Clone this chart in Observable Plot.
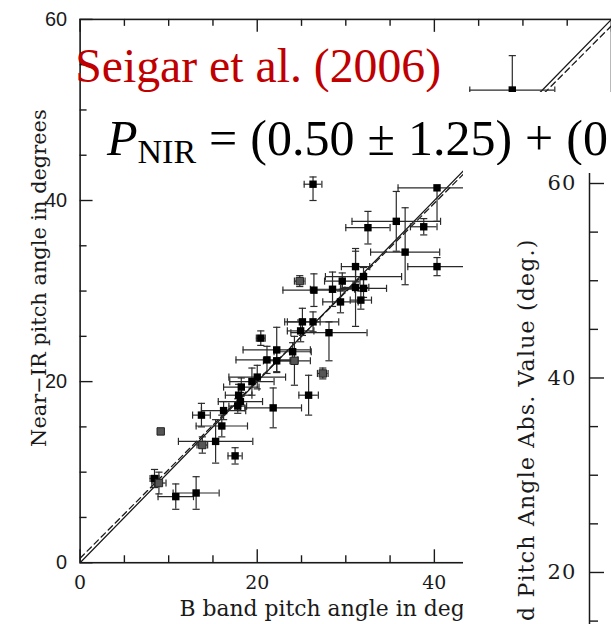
<!DOCTYPE html>
<html><head><meta charset="utf-8">
<script src="https://cdn.jsdelivr.net/npm/d3@7"></script>
<script src="https://cdn.jsdelivr.net/npm/@observablehq/plot@0.6"></script>
<style>
html,body{margin:0;padding:0;background:#fff;}
#wrap{position:relative;width:611px;height:624px;overflow:hidden;background:#fff;}
#left{position:absolute;left:0;top:0;}
#eq{position:absolute;left:98px;top:92px;width:513px;height:75px;background:#fff;}
#eqtext{position:absolute;left:9px;top:17px;font-family:"Liberation Serif",serif;font-size:50px;line-height:58px;word-spacing:0.5px;white-space:nowrap;color:#000;}
#eqtext .sub{font-size:34px;position:relative;top:8px;word-spacing:0;}
#right{position:absolute;left:463px;top:165px;width:148px;height:459px;background:#fff;}
</style>
</head>
<body>
<div id="wrap">
  <div id="left"></div>
  <div id="eq"><div id="eqtext"><i>P</i><span class="sub">NIR</span> = (0.50 ± 1.25) + (0</div></div>
  <div id="right"></div>
</div>
<script>
// ---- data: B band vs near-IR pitch angles (degrees) ----
const bandB  = [26.3,40.3,35.7,32.5,38.8,36.7,40.3,31.1,32.0,29.6,24.8,26.4,28.5,31.1,32.0,29.4,31.7,26.3,28.1,25.1,24.9,20.4,22.2,24.0,21.1,22.2,24.2,20.0,19.4,18.2,17.9,18.1,17.8,21.8,25.8,27.4,13.7,16.2,16.0,15.3,13.8,9.1,17.5,8.4,8.9,10.8,13.1,48.8];
const nearIR = [41.8,41.4,37.7,37.0,37.1,34.3,32.7,32.7,31.6,31.1,31.1,30.1,30.2,30.4,30.3,28.8,29.0,26.6,25.4,26.6,25.6,24.8,23.5,23.3,22.4,22.3,22.3,20.5,20.0,19.4,18.5,17.8,17.3,17.1,18.5,20.9,16.3,16.8,15.1,13.4,13.0,14.5,11.8,9.3,8.8,7.3,7.7,52.2];
const errB   = [1.0,4.4,5.0,2.5,1.5,3.9,3.3,1.6,4.3,2.0,0.6,3.5,2.5,1.5,2.6,2.0,1.2,2.9,4.3,2.0,1.5,0.5,3.8,2.1,3.5,1.5,1.8,3.2,2.5,2.0,1.5,2.5,1.0,3.2,1.1,0.6,1.0,2.5,2.9,4.2,0.6,0,0.8,0.5,0.8,2.0,2.6,4.8];
const errNlo = [1.8,3.7,3.3,1.8,0.9,3.6,1.0,1.7,1.0,0.9,0.6,1.8,1.9,4.3,1.0,1.2,1.0,1.1,3.1,1.5,1.2,0.8,2.5,1.0,1.5,1.2,2.7,1.3,1.5,1.0,1.2,1.0,0.8,2.2,2.2,0.6,1.3,1.0,1.2,2.4,0.9,0,0.9,1.0,1.2,1.4,1.8,3.8];
const errNhi = [0.8,0.0,3.3,1.8,0.9,4.9,1.0,1.7,1.0,0.9,0.6,1.8,1.9,4.3,1.0,1.2,1.0,1.1,1.2,1.5,1.2,0.8,2.5,1.0,1.5,1.2,2.7,1.3,1.5,1.0,1.2,1.0,0.8,2.2,2.2,0.6,1.3,1.0,1.2,2.4,0.9,0,0.9,1.0,1.2,1.4,1.8,3.8];
const greyPt = [0,0,0,0,0,0,0,0,0,0,1,0,0,0,0,0,0,0,0,0,0,0,0,0,0,0,1,0,0,0,0,0,0,0,0,1,0,0,0,0,1,1,0,0,1,0,0,0];

// fit line and one-to-one line
const fitIntercept = 0.50, fitSlope = 0.98;
const lineXs = [0, 60];

// axes ticks
const xMajor = [0, 20, 40, 60];
const xMinor = [5, 10, 15, 25, 30, 35, 45, 50, 55];
const yMajor = [0, 20, 40, 60];
const yMinor = [5, 10, 15, 25, 30, 35, 45, 50, 55];
const xTickLabels = [0, 20, 40];
const yTickLabels = [0, 20, 40, 60];
const xTitle = "B band pitch angle in degrees";
const yTitle = "Near\u2212IR pitch angle in degrees";
const refLabel = "Seigar et al. (2006)";

// right panel (second figure, partially visible)
const rMajor = [20, 40, 60];
const rMinor = [15, 25, 30, 35, 45, 50, 55];
const rTitle = "d Pitch Angle Abs. Value (deg.)";

// ---- build ----
const pts = bandB.map((x, i) => ({
  x, y: nearIR[i],
  xlo: x - errB[i], xhi: x + errB[i],
  ylo: nearIR[i] - errNlo[i], yhi: nearIR[i] + errNhi[i],
  eb: errB[i], enl: errNlo[i], enh: errNhi[i],
  grey: greyPt[i] === 1
}));
const withXe = pts.filter(d => d.eb > 0);
const withYlo = pts.filter(d => d.enl > 0);
const withYhi = pts.filter(d => d.enh > 0);

const capV = {draw(ctx, size) { const r = Math.sqrt(size / Math.PI); ctx.moveTo(0, -r); ctx.lineTo(0, r); }};
const capH = {draw(ctx, size) { const r = Math.sqrt(size / Math.PI); ctx.moveTo(-r, 0); ctx.lineTo(r, 0); }};

const FW = 614 - 80, FH = 565 - 19;
const serif = "DejaVu Serif";
const ink = "#1a1a1a";
const barInk = "#2a2a2a";

const left = Plot.plot({
  width: 614, height: 624,
  marginLeft: 80, marginRight: 0, marginTop: 19, marginBottom: 59,
  x: {domain: [0, 60], axis: null},
  y: {domain: [0, 60], axis: null},
  style: {background: "transparent", overflow: "visible"},
  marks: [
    // one-to-one and fitted lines
    Plot.line(lineXs, {x: d => d, y: d => d, stroke: ink, strokeWidth: 1.3, clip: true}),
    Plot.line(lineXs, {x: d => d, y: d => fitIntercept + fitSlope * d, stroke: ink, strokeWidth: 1.3, strokeDasharray: "6,4", clip: true}),
    // error bars
    Plot.ruleY(withXe, {y: "y", x1: "xlo", x2: "xhi", stroke: barInk, strokeWidth: 1.2}),
    Plot.ruleX(pts.filter(d => d.enl > 0 || d.enh > 0), {x: "x", y1: "ylo", y2: "yhi", stroke: barInk, strokeWidth: 1.2}),
    Plot.dot(withXe, {x: "xlo", y: "y", symbol: capV, r: 3.6, stroke: barInk, fill: "none", strokeWidth: 1.2}),
    Plot.dot(withXe, {x: "xhi", y: "y", symbol: capV, r: 3.6, stroke: barInk, fill: "none", strokeWidth: 1.2}),
    Plot.dot(withYlo, {x: "x", y: "ylo", symbol: capH, r: 3.6, stroke: barInk, fill: "none", strokeWidth: 1.2}),
    Plot.dot(withYhi, {x: "x", y: "yhi", symbol: capH, r: 3.6, stroke: barInk, fill: "none", strokeWidth: 1.2}),
    // markers
    Plot.dot(pts.filter(d => !d.grey), {x: "x", y: "y", symbol: "square", r: 4.2, fill: "#000", stroke: "none"}),
    Plot.dot(pts.filter(d => d.grey), {x: "x", y: "y", symbol: "square", r: 4.2, fill: "#555", stroke: "#222", strokeWidth: 1}),
    // frame and inward ticks
    Plot.frame({stroke: ink, strokeWidth: 1.6}),
    Plot.ruleX(xMajor, {x: d => d, insetTop: FH - 13, stroke: ink, strokeWidth: 1.4}),
    Plot.ruleX(xMinor, {x: d => d, insetTop: FH - 7, stroke: ink, strokeWidth: 1.4}),
    Plot.ruleX(xMajor, {x: d => d, insetBottom: FH - 13, stroke: ink, strokeWidth: 1.4}),
    Plot.ruleX(xMinor, {x: d => d, insetBottom: FH - 7, stroke: ink, strokeWidth: 1.4}),
    Plot.ruleY(yMajor, {y: d => d, insetRight: FW - 13, stroke: ink, strokeWidth: 1.4}),
    Plot.ruleY(yMinor, {y: d => d, insetRight: FW - 7, stroke: ink, strokeWidth: 1.4}),
    // tick labels
    Plot.text(xTickLabels, {x: d => d, frameAnchor: "bottom", lineAnchor: "middle", dy: 20, text: d => String(d), fontFamily: serif, fontSize: 19, fill: ink}),
    Plot.text(yTickLabels, {y: d => d, frameAnchor: "left", lineAnchor: "middle", dx: -13, textAnchor: "end", text: d => String(d), fontFamily: "Liberation Sans", fontSize: 20, fill: ink}),
    // axis titles
    Plot.text([xTitle], {frameAnchor: "bottom", lineAnchor: "middle", textAnchor: "middle", dy: 46, text: d => d, fontFamily: serif, fontSize: 22, fill: ink}),
    Plot.text([yTitle], {frameAnchor: "left", lineAnchor: "middle", textAnchor: "middle", dx: -41, dy: -13, rotate: -90, text: d => d, fontFamily: serif, fontSize: 21, fill: ink}),
    // reference label
    Plot.text([refLabel], {frameAnchor: "top-left", lineAnchor: "middle", dx: -5, dy: 48, textAnchor: "start", text: d => d, fontFamily: "Liberation Serif", fontSize: 48, fill: "#c00000"})
  ]
});
document.getElementById("left").appendChild(left);

const right = Plot.plot({
  width: 148, height: 459,
  marginLeft: 126, marginRight: 0, marginTop: 18, marginBottom: 3.4,
  x: {domain: [0, 1], axis: null},
  y: {domain: [15, 60], axis: null},
  style: {background: "transparent", overflow: "visible", letterSpacing: "1.2px"},
  marks: [
    Plot.ruleX([0], {x: d => d, insetTop: -10, insetBottom: -10, stroke: ink, strokeWidth: 1.5}),
    Plot.ruleY(rMajor, {y: d => d, insetRight: 22 - 15, stroke: ink, strokeWidth: 1.4}),
    Plot.ruleY(rMinor, {y: d => d, insetRight: 22 - 9, stroke: ink, strokeWidth: 1.4}),
    Plot.text(rMajor, {y: d => d, frameAnchor: "left", lineAnchor: "middle", dx: -13, textAnchor: "end", text: d => String(d), fontFamily: serif, fontSize: 21, fill: ink}),
    Plot.text([rTitle], {frameAnchor: "top-left", lineAnchor: "middle", dx: -63, dy: 55, rotate: -90, textAnchor: "end", text: d => d, fontFamily: serif, fontSize: 22, fill: ink})
  ]
});
document.getElementById("right").appendChild(right);
</script>
</body></html>
